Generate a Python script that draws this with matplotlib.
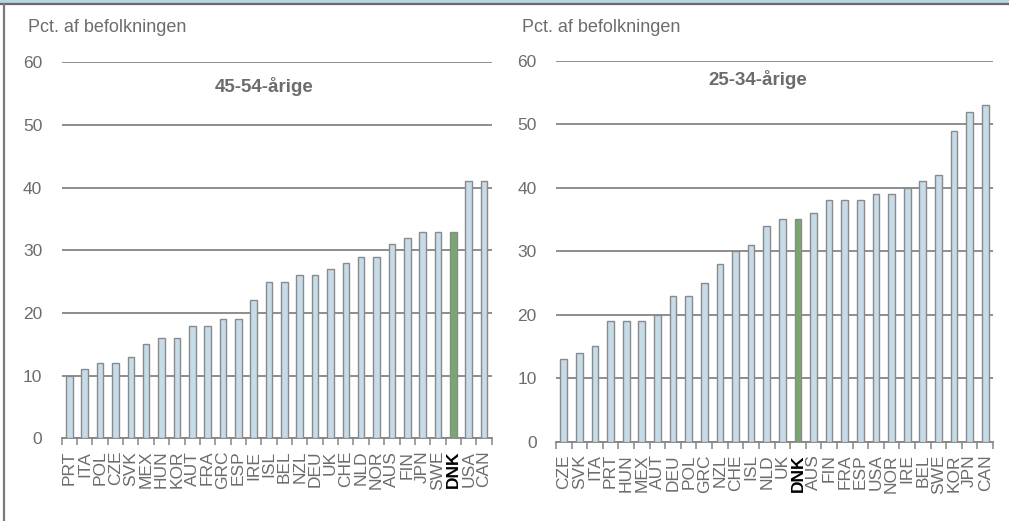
import matplotlib
matplotlib.use("Agg")
import matplotlib.pyplot as plt
from matplotlib.lines import Line2D
from matplotlib.patches import Rectangle

plt.rcParams['font.family'] = ['Liberation Sans', 'DejaVu Sans']

# ---- data ----
countries_4554 = ["PRT", "ITA", "POL", "CZE", "SVK", "MEX", "HUN", "KOR", "AUT", "FRA",
                  "GRC", "ESP", "IRE", "ISL", "BEL", "NZL", "DEU", "UK", "CHE", "NLD",
                  "NOR", "AUS", "FIN", "JPN", "SWE", "DNK", "USA", "CAN"]
values_4554 = [10, 11, 12, 12, 13, 15, 16, 16, 18, 18,
               19, 19, 22, 25, 25, 26, 26, 27, 28, 29,
               29, 31, 32, 33, 33, 33, 41, 41]

countries_2534 = ["CZE", "SVK", "ITA", "PRT", "HUN", "MEX", "AUT", "DEU", "POL", "GRC",
                  "NZL", "CHE", "ISL", "NLD", "UK", "DNK", "AUS", "FIN", "FRA", "ESP",
                  "USA", "NOR", "IRE", "BEL", "SWE", "KOR", "JPN", "CAN"]
values_2534 = [13, 14, 15, 19, 19, 19, 20, 23, 23, 25,
               28, 30, 31, 34, 35, 35, 36, 38, 38, 38,
               39, 39, 40, 41, 42, 49, 52, 53]

titles = ["45-54-årige", "25-34-årige"]
ylabel_text = "Pct. af befolkningen"
yticks = [0, 10, 20, 30, 40, 50, 60]
highlight = "DNK"

# ---- style ----
TEXT = "#6c6c6c"
GRID = "#858585"
BAR = "#c6dce9"
EDGE = "#8a8a8a"
GREEN = "#77a86f"

W, H = 1009, 521
fig = plt.figure(figsize=(W / 100, H / 100), dpi=100)

panels = [
    (countries_4554, values_4554, titles[0], [61.7, 62.4, 491.7, 438.3], (0.47, 0.935), 28),
    (countries_2534, values_2534, titles[1], [556.0, 60.7, 993.0, 441.7], (0.462, 0.95), 521.7),
]

for cats, vals, title, (x0, y0, x1, y1), tpos, lab_x in panels:
    ax = fig.add_axes([x0 / W, 1 - y1 / H, (x1 - x0) / W, (y1 - y0) / H])
    pos = list(range(len(cats)))
    colors = [GREEN if c == highlight else BAR for c in cats]
    ax.bar(pos, vals, width=0.43, color=colors, edgecolor=EDGE, linewidth=1.0, zorder=3)
    ax.set_xlim(-0.5, len(cats) - 0.5)
    ax.set_ylim(0, 60)
    ax.set_yticks(yticks)
    ax.yaxis.grid(True, color=GRID, linewidth=1.3, zorder=0)
    ax.set_axisbelow(True)
    for s in ["left", "right", "top"]:
        ax.spines[s].set_visible(False)
    ax.spines["bottom"].set_color(GRID)
    ax.spines["bottom"].set_linewidth(1.3)
    ax.tick_params(axis="y", length=0, pad=14, labelsize=12.5, labelcolor=TEXT)
    ax.set_xticks(pos)
    ax.set_xticklabels(cats, rotation=90, fontsize=12.5, color=TEXT)
    ax.set_xticks([p - 0.5 for p in range(len(cats) + 1)], minor=True)
    ax.tick_params(axis="x", which="major", length=0, pad=9)
    ax.tick_params(axis="x", which="minor", length=5, width=1.1, color=GRID, direction="out")
    for lbl in ax.get_xticklabels():
        if lbl.get_text() == highlight:
            lbl.set_color("black")
            lbl.set_fontweight("bold")
    ax.text(tpos[0], tpos[1], title, transform=ax.transAxes, ha="center", va="center",
            fontsize=13.5, fontweight="bold", color=TEXT)
    fig.text(lab_x / W, 1 - 28 / H, ylabel_text, ha="left", va="center",
             fontsize=13, color=TEXT)

# frame decorations
fig.patches.append(Rectangle((0, 1 - 3 / H), 1, 3 / H, transform=fig.transFigure,
                             facecolor="#b9d5e5", edgecolor="none", zorder=0))
fig.lines.append(Line2D([0, 1], [1 - 4 / H, 1 - 4 / H], transform=fig.transFigure,
                        color="#6a6a6a", linewidth=1.6))
fig.lines.append(Line2D([3.8 / W, 3.8 / W], [0, 1 - 4 / H], transform=fig.transFigure,
                        color="#7a7a7a", linewidth=1.6))

fig.savefig("out.png", dpi=100)
